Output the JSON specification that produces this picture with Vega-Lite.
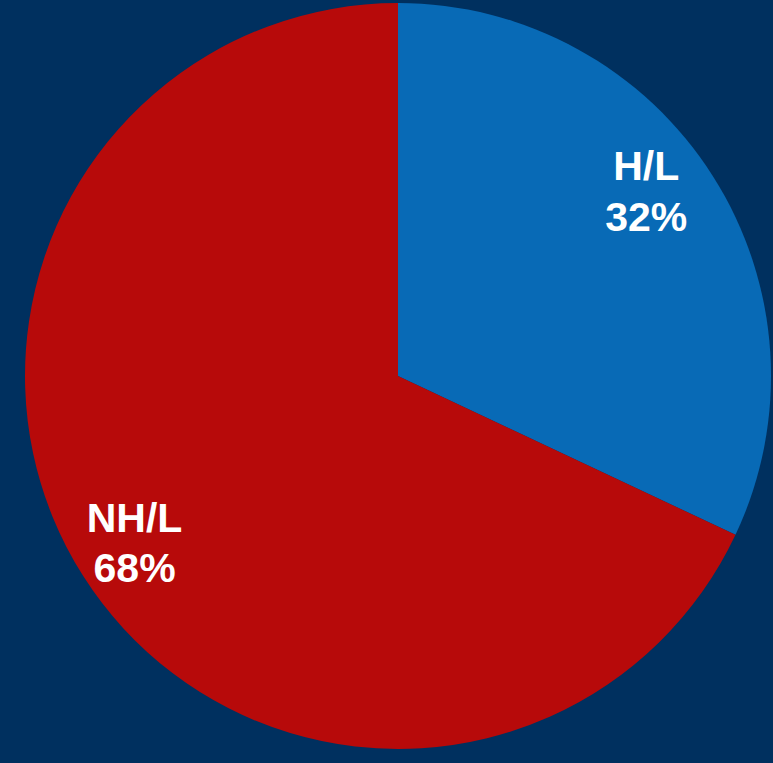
{
  "$schema": "https://vega.github.io/schema/vega-lite/v6.json",
  "width": 750,
  "height": 752,
  "autosize": {"type": "none"},
  "padding": {"left": 23, "top": 0, "right": 0, "bottom": 11},
  "background": "#00305F",
  "config": {"view": {"stroke": null}},
  "data": {"values": [
    {"category": "H/L", "value": 32, "label": "H/L\n32%"},
    {"category": "NH/L", "value": 68, "label": "NH/L\n68%"}
  ]},
  "encoding": {
    "theta": {"field": "value", "type": "quantitative", "stack": true},
    "order": {"field": "category", "type": "nominal", "sort": "ascending"}
  },
  "layer": [
    {
      "mark": {"type": "arc", "outerRadius": 373},
      "encoding": {
        "color": {"field": "category", "type": "nominal", "legend": null,
          "scale": {"domain": ["H/L", "NH/L"], "range": ["#086AB6", "#B70A0A"]}}
      }
    },
    {
      "mark": {"type": "text", "radius": 294, "dy": -50, "font": "Liberation Sans", "fontWeight": "bold", "fontSize": 41, "fill": "white", "lineBreak": "\n", "lineHeight": 51, "align": "center", "baseline": "middle"},
      "encoding": {
        "text": {"condition": {"test": "datum.category === 'H/L'", "field": "label"}, "value": ""}
      }
    },
    {
      "mark": {"type": "text", "radius": 312, "dy": -23, "font": "Liberation Sans", "fontWeight": "bold", "fontSize": 41, "fill": "white", "lineBreak": "\n", "lineHeight": 50, "align": "center", "baseline": "middle"},
      "encoding": {
        "text": {"condition": {"test": "datum.category === 'NH/L'", "field": "label"}, "value": ""}
      }
    }
  ]
}
